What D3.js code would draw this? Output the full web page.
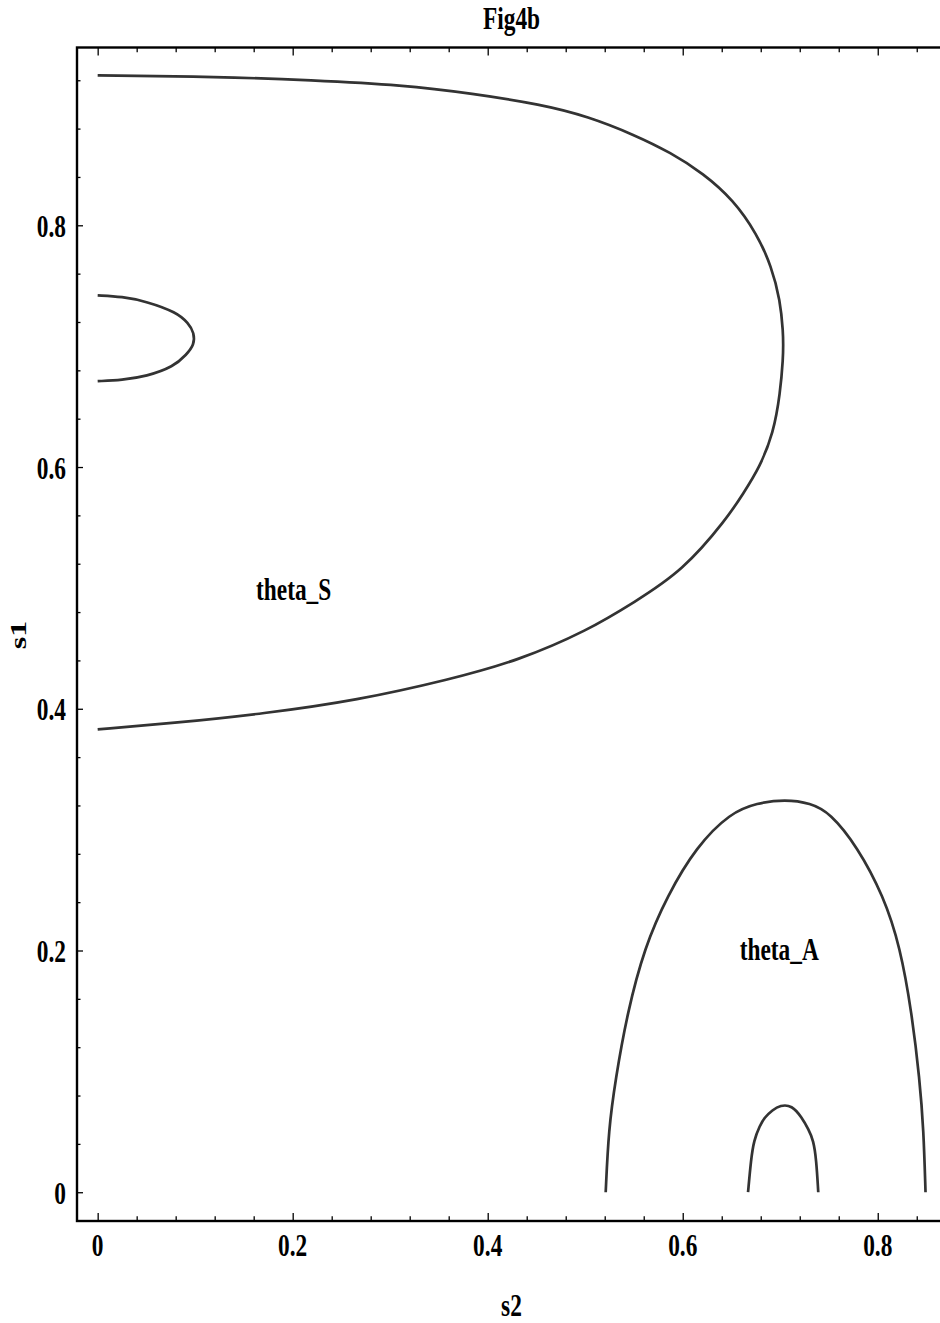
<!DOCTYPE html>
<html>
<head>
<meta charset="utf-8">
<script src="https://cdn.jsdelivr.net/npm/d3@7"></script>
<style>
  body { margin: 0; background: #fff; }
  svg text { font-family: "Liberation Serif", "Times New Roman", serif; font-weight: bold; }
</style>
</head>
<body>
<svg id="chart" width="940" height="1323"></svg>
<script>
// tick values
const s2Major = [0, 0.2, 0.4, 0.6, 0.8];
const s2Minor = [0.04, 0.08, 0.12, 0.16, 0.24, 0.28, 0.32, 0.36, 0.44, 0.48, 0.52, 0.56, 0.64, 0.68, 0.72, 0.76, 0.84];
const s1Major = [0, 0.2, 0.4, 0.6, 0.8];
const s1Minor = [0.04, 0.08, 0.12, 0.16, 0.24, 0.28, 0.32, 0.36, 0.44, 0.48, 0.52, 0.56, 0.64, 0.68, 0.72, 0.76, 0.84, 0.88, 0.92];

// contour lines, [s2, s1]
const thetaSOuter = [
  [0.000, 0.924], [0.124, 0.923], [0.219, 0.920], [0.313, 0.916], [0.384, 0.909],
  [0.455, 0.900], [0.503, 0.890], [0.550, 0.875], [0.588, 0.860], [0.621, 0.843],
  [0.652, 0.821], [0.676, 0.793], [0.691, 0.766], [0.700, 0.738], [0.703, 0.711],
  [0.703, 0.701], [0.703, 0.691], [0.700, 0.661], [0.693, 0.628], [0.679, 0.600],
  [0.662, 0.578], [0.645, 0.557], [0.600, 0.514], [0.550, 0.488], [0.503, 0.465],
  [0.432, 0.440], [0.360, 0.424], [0.266, 0.407], [0.171, 0.396], [0.076, 0.388],
  [0.000, 0.383]
];
const thetaSInner = [
  [0.000, 0.742], [0.025, 0.741], [0.050, 0.737], [0.081, 0.728], [0.093, 0.719],
  [0.099, 0.711], [0.099, 0.701], [0.091, 0.693], [0.078, 0.683], [0.050, 0.675],
  [0.025, 0.672], [0.000, 0.671]
];
const thetaAOuter = [
  [0.521, 0.000], [0.524, 0.052], [0.531, 0.093], [0.543, 0.148], [0.561, 0.203],
  [0.584, 0.245], [0.614, 0.286], [0.649, 0.314], [0.676, 0.322], [0.705, 0.325],
  [0.731, 0.322], [0.751, 0.314], [0.779, 0.286], [0.806, 0.245], [0.823, 0.203],
  [0.835, 0.148], [0.843, 0.093], [0.847, 0.052], [0.849, 0.000]
];
const thetaAInner = [
  [0.667, 0.000], [0.670, 0.027], [0.673, 0.043], [0.679, 0.055], [0.684, 0.062],
  [0.692, 0.068], [0.700, 0.072], [0.712, 0.072], [0.722, 0.062], [0.729, 0.052],
  [0.734, 0.043], [0.737, 0.027], [0.739, 0.000]
];

const labels = [
  { text: "theta_S", s2: 0.201, s1: 0.490 },
  { text: "theta_A", s2: 0.699, s1: 0.192 }
];

const box = { left: 77, right: 946, top: 47.5, bottom: 1221 };
const squeeze = 0.73; // glyphs are narrower than they are tall
const fontSize = 32;

const x = d3.scaleLinear().domain([-0.0212, 0.870]).range([box.left, box.right]);
const y = d3.scaleLinear().domain([-0.0238, 0.9471]).range([box.bottom, box.top]);

const svg = d3.select("#chart");

// contours
const line = d3.line().x(d => x(d[0])).y(d => y(d[1])).curve(d3.curveBasis);

svg.append("g")
  .selectAll("path")
  .data([thetaSOuter, thetaSInner, thetaAOuter, thetaAInner])
  .join("path")
  .attr("d", line)
  .attr("fill", "none")
  .attr("stroke", "#333")
  .attr("stroke-width", 2.7)
  .attr("stroke-linejoin", "round");

// ticks on all four sides, pointing inward
function ticks(axis, values, size, transform) {
  const g = svg.append("g")
    .attr("transform", transform)
    .call(axis.tickValues(values).tickSize(size).tickFormat(""));
  g.select(".domain").remove();
  g.selectAll(".tick line").attr("stroke", "#000").attr("stroke-width", 1.3);
}

ticks(d3.axisBottom(x), s2Major, -8, `translate(0,${box.bottom})`);
ticks(d3.axisBottom(x), s2Minor, -4.7, `translate(0,${box.bottom})`);
ticks(d3.axisTop(x), s2Major, -8, `translate(0,${box.top})`);
ticks(d3.axisTop(x), s2Minor, -4.7, `translate(0,${box.top})`);
ticks(d3.axisLeft(y), s1Major, -6, `translate(${box.left},0)`);
ticks(d3.axisLeft(y), s1Minor, -3.5, `translate(${box.left},0)`);
ticks(d3.axisRight(y), s1Major, -6, `translate(${box.right},0)`);
ticks(d3.axisRight(y), s1Minor, -3.5, `translate(${box.right},0)`);

// frame
svg.append("rect")
  .attr("x", box.left).attr("y", box.top)
  .attr("width", box.right - box.left).attr("height", box.bottom - box.top)
  .attr("fill", "none").attr("stroke", "#000").attr("stroke-width", 2.4);

const fmt = d => d === 0 ? "0" : d3.format(".1f")(d);

function squeezedText(sel, size) {
  return sel.attr("font-size", size).attr("fill", "#000");
}

// tick labels
svg.append("g")
  .selectAll("text")
  .data(s2Major)
  .join("text")
  .attr("transform", d => `translate(${x(d)},${box.bottom + 35}) scale(${squeeze},1)`)
  .attr("text-anchor", "middle")
  .call(squeezedText, fontSize)
  .text(fmt);

svg.append("g")
  .selectAll("text")
  .data(s1Major)
  .join("text")
  .attr("transform", d => `translate(${box.left - 11},${y(d) + 11.5}) scale(${squeeze},1)`)
  .attr("text-anchor", "end")
  .call(squeezedText, fontSize)
  .text(fmt);

// region labels
svg.append("g")
  .selectAll("text")
  .data(labels)
  .join("text")
  .attr("transform", d => `translate(${x(d.s2)},${y(d.s1)}) scale(${squeeze},1)`)
  .attr("text-anchor", "middle")
  .call(squeezedText, fontSize)
  .text(d => d.text);

// title and axis names
const midX = (box.left + box.right) / 2;
svg.append("text")
  .attr("transform", `translate(${midX},29) scale(${squeeze},1)`)
  .attr("text-anchor", "middle")
  .call(squeezedText, fontSize)
  .text("Fig4b");

svg.append("text")
  .attr("transform", `translate(${midX},1316) scale(${squeeze},1)`)
  .attr("text-anchor", "middle")
  .call(squeezedText, fontSize)
  .text("s2");

svg.append("text")
  .attr("transform", `translate(26,635) scale(${squeeze},1) rotate(-90)`)
  .attr("text-anchor", "middle")
  .call(squeezedText, fontSize)
  .text("s1");
</script>
</body>
</html>
